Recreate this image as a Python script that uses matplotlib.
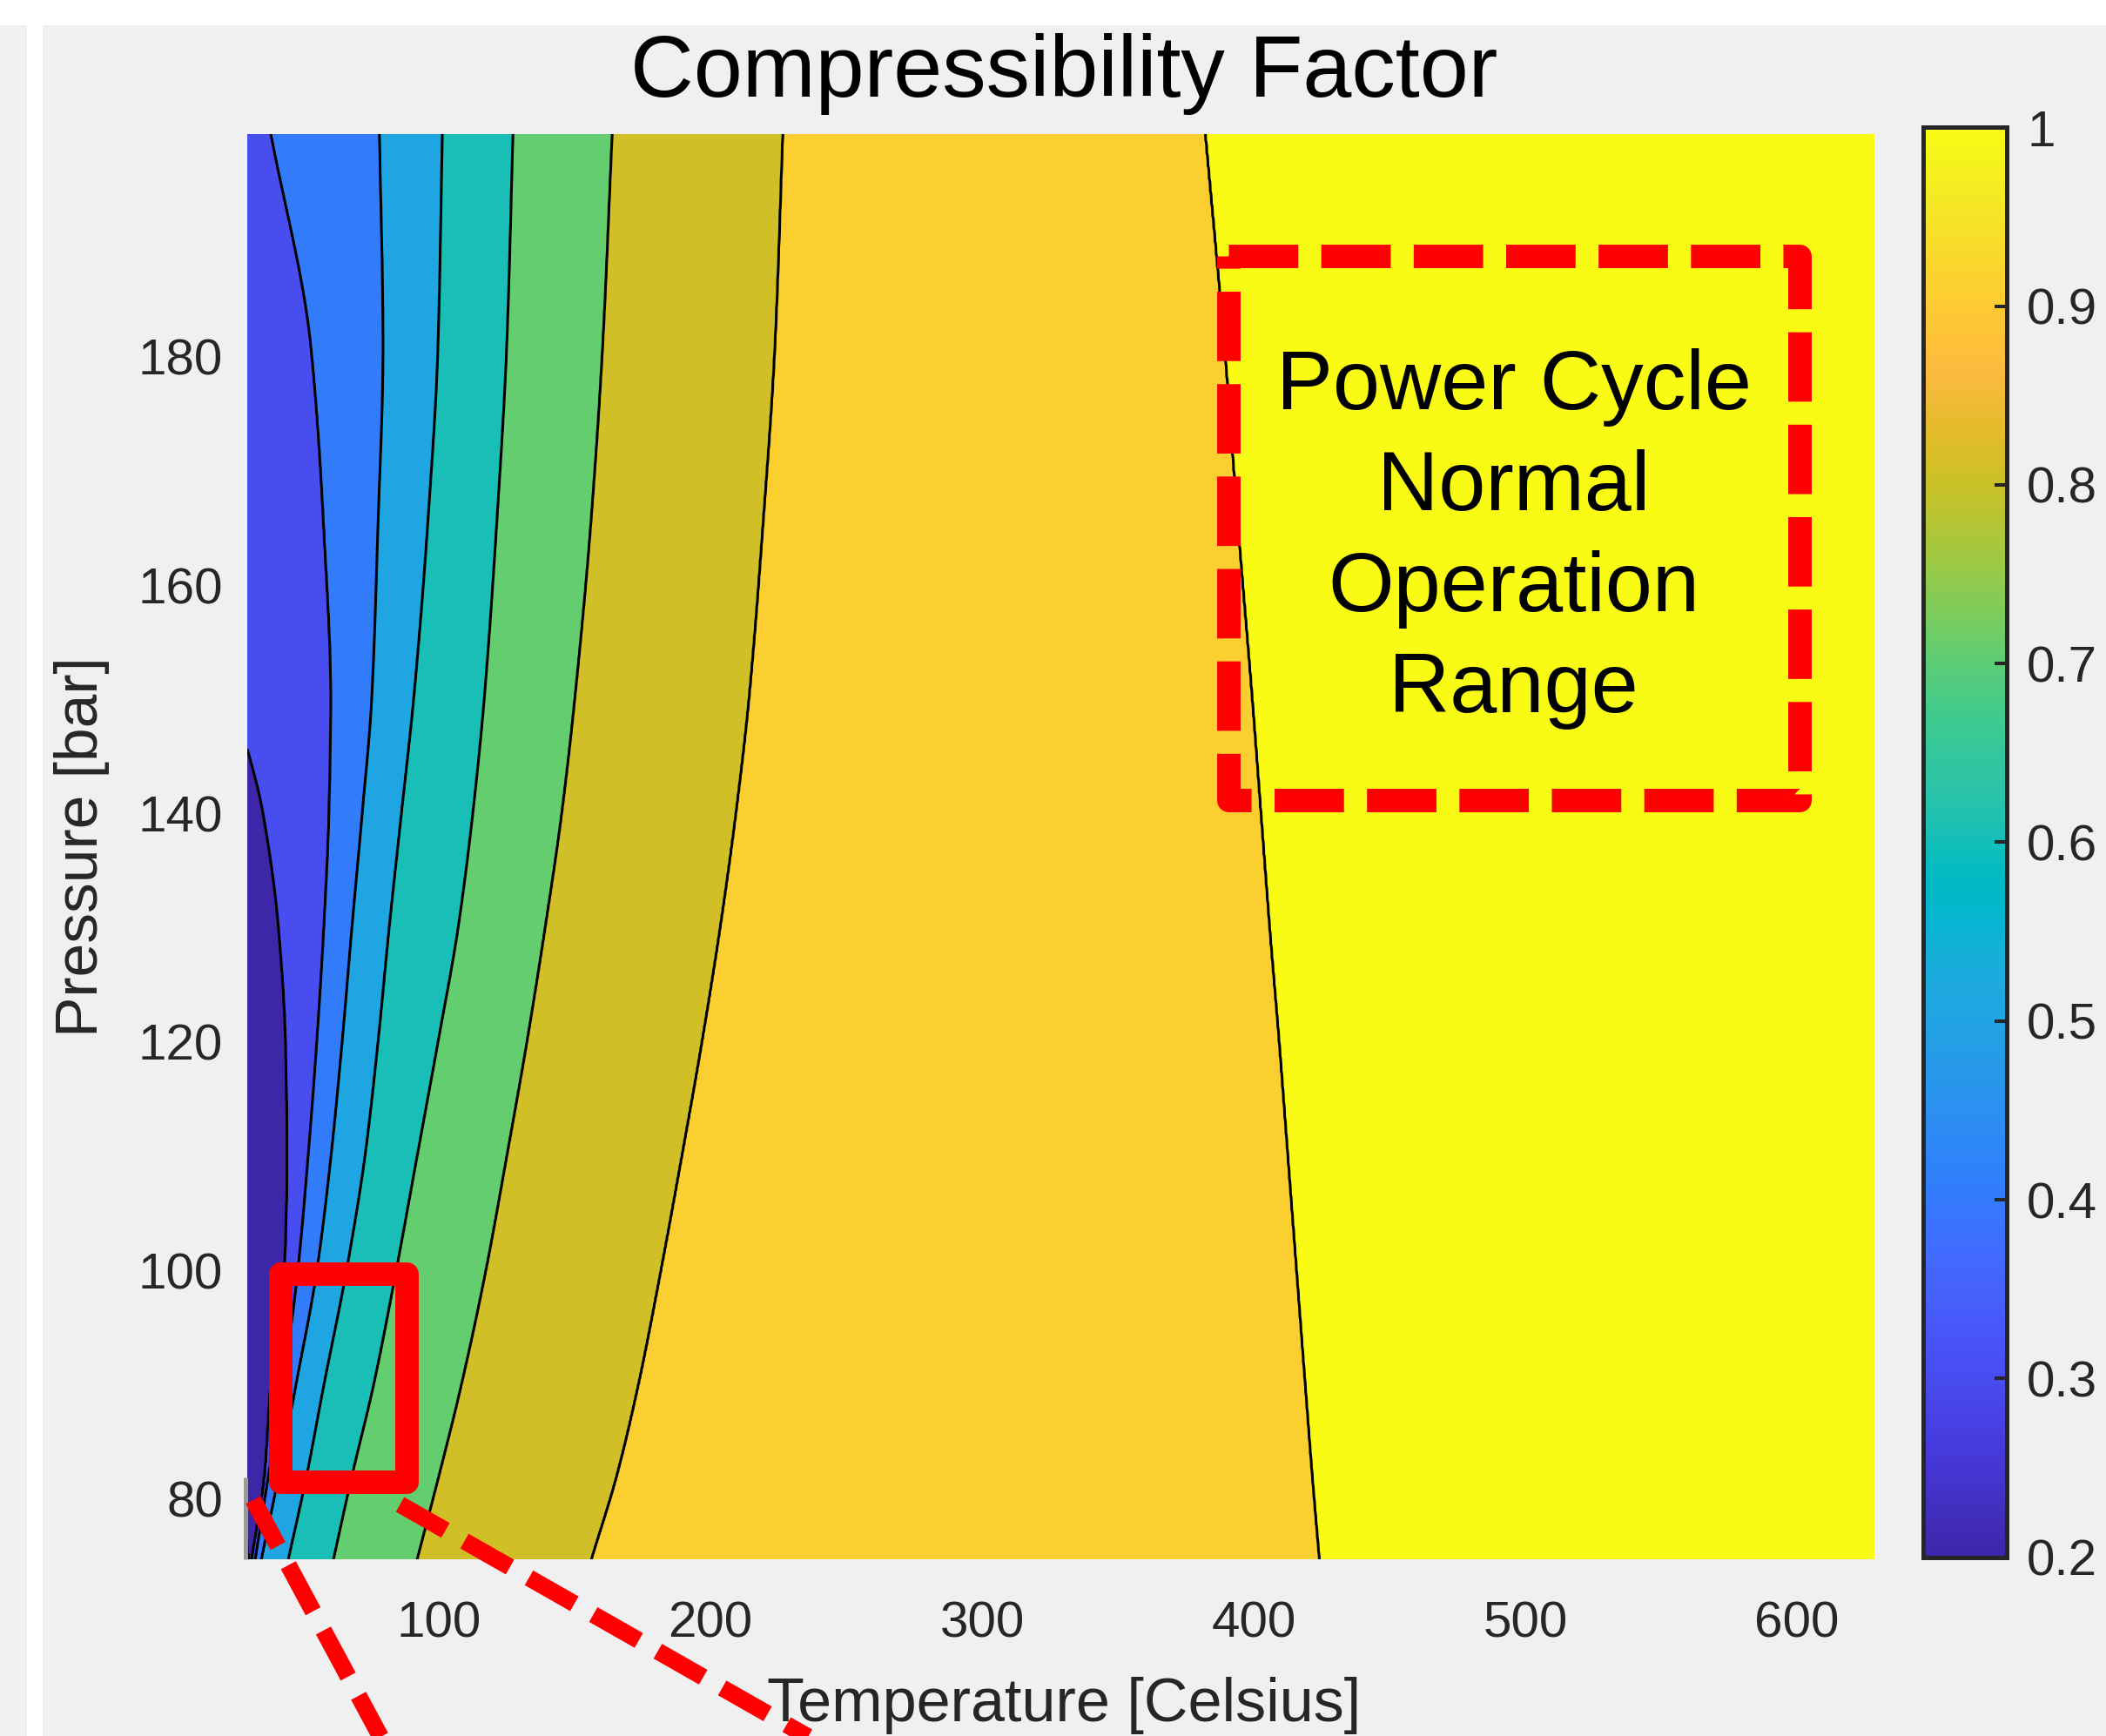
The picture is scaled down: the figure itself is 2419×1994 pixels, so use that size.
import numpy as np
import matplotlib
matplotlib.use("Agg")
import matplotlib.pyplot as plt
from matplotlib.colors import LinearSegmentedColormap, Normalize
from matplotlib.cm import ScalarMappable
from matplotlib.patches import Rectangle

plt.rcParams['font.family'] = ['Liberation Sans', 'DejaVu Sans']

W, H = 2419, 1994

# ranges of the map
t_min, t_max = 29.5, 628.5
p_min, p_max = 74.7, 199.5

# contour levels of the compressibility factor
levels = [0.2, 0.3, 0.4, 0.5, 0.6, 0.7, 0.8, 0.9, 1.0]

# pressure rows [bar] where the iso-lines are traced
pressures = [199.5, 181, 165, 150, 140, 130, 120, 110, 100, 90, 82, 74.7]

# temperature [C] of each iso-line on those rows
# (values below t_min: the line runs left of the map on that row)
t_z02 = [-25, -15, -5, 5, 12, 17, 20, 22, 23, 24, 27.5, 30.1]
t_z03 = [-5, 5, 15, 25, 35.3, 41.0, 43.6, 44.2, 43.3, 38.2, 35.9, 31.1]
t_z04 = [38.2, 52.9, 57.7, 60.3, 59.6, 57.7, 55.1, 51.9, 48.1, 42.6, 37.2, 32.4]
t_z05 = [78.2, 79.5, 77.6, 75.3, 71.8, 68.0, 64.4, 60.3, 55.1, 47.4, 41.0, 34.6]
t_z06 = [101.3, 99.7, 95.8, 90.7, 86.2, 81.7, 77.6, 72.8, 66.0, 57.7, 51.3, 44.6]
t_z07 = [127.3, 125.0, 121.2, 116.7, 112.5, 107.1, 99.7, 92.0, 84.3, 76.0, 68.0, 61.2]
t_z08 = [163.8, 160.3, 155.8, 150.0, 145.2, 139.1, 132.4, 125.0, 117.3, 108.3, 100.0, 92.0]
t_z09 = [226.6, 223.7, 219.2, 214.1, 209.3, 203.5, 196.8, 189.4, 181.7, 173.4, 165.4, 156.1]
t_z10 = [382.1, 389.1, 394.2, 399.4, 402.6, 405.8, 409.3, 412.5, 415.7, 418.9, 421.5, 424.1]

# Z far on the cold side and on the hot edge
z_far_cold = 0.1
t_far_cold = -100.0
z_hot = 1.03

# colorbar ticks
cb_ticks = [0.2, 0.3, 0.4, 0.5, 0.6, 0.7, 0.8, 0.9, 1.0]
cb_labels = ['0.2', '0.3', '0.4', '0.5', '0.6', '0.7', '0.8', '0.9', '1']

# annotation boxes (T [C], P [bar])
range_T = (390.6, 600.8)
range_P = (141.2, 188.8)
zoom_T = (41.8, 88.0)
zoom_P = (81.5, 99.7)
link_a = ((31.7, 97.0), (79.9, 51.0))
link_b = ((85.75, 296.1), (79.5, 51.0))

# parula colormap (64 entries)
parula = [
    [0.2422, 0.1504, 0.6603], [0.2504, 0.1650, 0.7076], [0.2578, 0.1818, 0.7511], [0.2647, 0.1978, 0.7952],
    [0.2706, 0.2147, 0.8364], [0.2751, 0.2342, 0.8710], [0.2783, 0.2559, 0.8991], [0.2803, 0.2782, 0.9221],
    [0.2813, 0.3006, 0.9414], [0.2810, 0.3228, 0.9579], [0.2795, 0.3447, 0.9717], [0.2760, 0.3667, 0.9829],
    [0.2699, 0.3892, 0.9906], [0.2602, 0.4123, 0.9952], [0.2440, 0.4358, 0.9988], [0.2206, 0.4603, 0.9973],
    [0.1963, 0.4847, 0.9892], [0.1834, 0.5074, 0.9798], [0.1786, 0.5289, 0.9682], [0.1764, 0.5499, 0.9520],
    [0.1687, 0.5703, 0.9359], [0.1540, 0.5902, 0.9218], [0.1460, 0.6091, 0.9079], [0.1380, 0.6276, 0.8973],
    [0.1248, 0.6459, 0.8883], [0.1113, 0.6635, 0.8763], [0.0952, 0.6798, 0.8598], [0.0689, 0.6948, 0.8394],
    [0.0297, 0.7082, 0.8163], [0.0036, 0.7203, 0.7917], [0.0067, 0.7312, 0.7660], [0.0433, 0.7411, 0.7394],
    [0.0964, 0.7500, 0.7120], [0.1408, 0.7584, 0.6842], [0.1717, 0.7670, 0.6554], [0.1938, 0.7758, 0.6251],
    [0.2161, 0.7843, 0.5923], [0.2470, 0.7918, 0.5567], [0.2906, 0.7973, 0.5188], [0.3406, 0.8008, 0.4789],
    [0.3909, 0.8029, 0.4354], [0.4456, 0.8024, 0.3909], [0.5044, 0.7993, 0.3480], [0.5616, 0.7942, 0.3045],
    [0.6174, 0.7876, 0.2612], [0.6720, 0.7793, 0.2227], [0.7242, 0.7698, 0.1910], [0.7738, 0.7598, 0.1646],
    [0.8203, 0.7498, 0.1535], [0.8634, 0.7406, 0.1596], [0.9035, 0.7330, 0.1774], [0.9393, 0.7288, 0.2100],
    [0.9728, 0.7298, 0.2394], [0.9956, 0.7434, 0.2371], [0.9970, 0.7659, 0.2199], [0.9952, 0.7893, 0.2028],
    [0.9892, 0.8136, 0.1885], [0.9786, 0.8386, 0.1766], [0.9676, 0.8639, 0.1643], [0.9610, 0.8890, 0.1537],
    [0.9597, 0.9135, 0.1423], [0.9628, 0.9373, 0.1265], [0.9691, 0.9606, 0.1064], [0.9769, 0.9839, 0.0805],
]
cmap = LinearSegmentedColormap.from_list('parula', parula, N=256)


def pchip(x, y, xq):
    # shape preserving cubic through the traced points
    x = np.asarray(x, float)
    y = np.asarray(y, float)
    h = np.diff(x)
    d = np.diff(y) / h
    n = len(x)
    m = np.zeros(n)
    for k in range(1, n - 1):
        if d[k - 1] * d[k] > 0:
            w1 = 2 * h[k] + h[k - 1]
            w2 = h[k] + 2 * h[k - 1]
            m[k] = (w1 + w2) / (w1 / d[k - 1] + w2 / d[k])
    m[0] = d[0]
    m[-1] = d[-1]
    i = np.clip(np.searchsorted(x, xq) - 1, 0, n - 2)
    t = (xq - x[i]) / h[i]
    h00 = 2 * t**3 - 3 * t**2 + 1
    h10 = t**3 - 2 * t**2 + t
    h01 = -2 * t**3 + 3 * t**2
    h11 = t**3 - t**2
    return h00 * y[i] + h10 * h[i] * m[i] + h01 * y[i + 1] + h11 * h[i] * m[i + 1]


# build the Z field from the traced iso-lines
crossings = [t_z02, t_z03, t_z04, t_z05, t_z06, t_z07, t_z08, t_z09, t_z10]
T = np.linspace(t_min, t_max, 1400)
P = np.linspace(p_min, p_max, 900)
order = np.argsort(pressures)
p_rows = np.array(pressures)[order]
lines = np.array([pchip(p_rows, np.array(c)[order], P) for c in crossings])

Z = np.empty((len(P), len(T)))
for i in range(len(P)):
    kt = np.concatenate([[t_far_cold], lines[:, i], [t_max]])
    kt = np.maximum.accumulate(kt + np.arange(len(kt)) * 1e-6)
    kz = np.concatenate([[z_far_cold], levels, [z_hot]])
    Z[i] = np.interp(T, kt, kz)

# each band takes the colour of its lower level
fill_levels = [0.0] + levels + [1.3]
band_colors = []
for lvl in fill_levels[:-1]:
    k = int((lvl - 0.2) / 0.8 * 64 + 1e-9)
    band_colors.append(parula[min(max(k, 0), 63)])

fig = plt.figure(figsize=(W / 100, H / 100), dpi=100, facecolor='white')

# grey window background with the white strips
fig.add_artist(Rectangle((49 / W, 0), 1, 1 - 29 / H, transform=fig.transFigure,
                         facecolor='#f0f0f0', edgecolor='none', zorder=-5))
fig.add_artist(Rectangle((0, 0), 31 / W, 1 - 29 / H, transform=fig.transFigure,
                         facecolor='#f0f0f0', edgecolor='none', zorder=-5))

ax = fig.add_axes([284 / W, 1 - 1791 / H, (2153 - 284) / W, (1791 - 154) / H])
ax.set_facecolor('#f0f0f0')
ax.contourf(T, P, Z, levels=fill_levels, colors=band_colors)
ax.contour(T, P, Z, levels=levels, colors='k', linewidths=2.2)

ax.set_xlim(t_min, t_max)
ax.set_ylim(p_min, p_max)
ax.set_xticks([100, 200, 300, 400, 500, 600])
ax.set_yticks([80, 100, 120, 140, 160, 180])
for s in ax.spines.values():
    s.set_visible(False)
ax.tick_params(axis='both', length=0, labelsize=42, colors='#262626')
ax.tick_params(axis='x', pad=34)
ax.tick_params(axis='y', pad=20)

# short grey stub on the lower left edge
ax.plot([t_min - 0.5, t_min - 0.5], [p_min, 81.9], color='#9a9a9a', lw=3.6,
        solid_capstyle='butt', clip_on=False, zorder=5)

# dashed box of the normal operation range
bx = [range_T[0], range_T[1], range_T[1], range_T[0], range_T[0]]
by = [range_P[1], range_P[1], range_P[0], range_P[0], range_P[1]]
ax.plot(bx, by, color='#ff0000', lw=19.4, linestyle=(0, (2.96, 0.98)),
        dash_capstyle='butt', dash_joinstyle='round', zorder=6)
t_mid = 0.5 * (range_T[0] + range_T[1])
for txt, pb in zip(['Power Cycle', 'Normal', 'Operation', 'Range'],
                   [175.4, 166.6, 157.7, 148.9]):
    ax.text(t_mid, pb, txt, ha='center', va='baseline', fontsize=70, color='k', zorder=7)

# solid box around the near critical region and its dashed links
ax.add_patch(Rectangle((zoom_T[0], zoom_P[0]), zoom_T[1] - zoom_T[0], zoom_P[1] - zoom_P[0],
                       fill=False, edgecolor='#ff0000', lw=19.4, joinstyle='round', zorder=6))
for (lx, ly) in [link_a, link_b]:
    ax.plot(lx, ly, color='#ff0000', lw=14, linestyle=(0, (3.09, 1.29)),
            dash_capstyle='butt', clip_on=False, zorder=8)

# colorbar
cax = fig.add_axes([2208.5 / W, 1 - 1788.5 / H, (2304.5 - 2208.5) / W, (1788.5 - 146.5) / H])
sm = ScalarMappable(norm=Normalize(0.2, 1.0), cmap=cmap)
cb = fig.colorbar(sm, cax=cax, ticks=cb_ticks)
cb.set_ticklabels(cb_labels)
cb.outline.set_linewidth(3.6)
cb.outline.set_edgecolor('#262626')
cax.tick_params(direction='in', length=10, width=2.9, colors='#262626', labelsize=42, pad=17)

fig.text(1222 / W, 1 - 111 / H, 'Compressibility Factor', ha='center', va='baseline',
         fontsize=72.5, color='k')
fig.text(1222 / W, 1 - 1977 / H, 'Temperature [Celsius]', ha='center', va='baseline',
         fontsize=50.5, color='#262626')
fig.text(112 / W, 1 - 973 / H, 'Pressure [bar]', ha='center', va='baseline', rotation=90,
         rotation_mode='anchor', fontsize=50, color='#262626')

fig.savefig('out.png', dpi=100, facecolor='white')
